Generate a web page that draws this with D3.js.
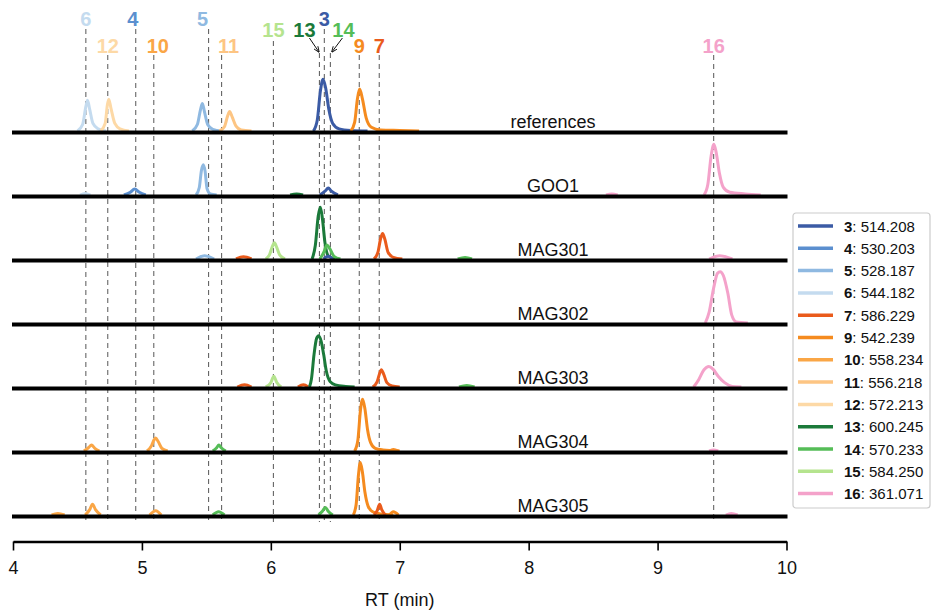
<!DOCTYPE html>
<html>
<head>
<meta charset="utf-8">
<script src="https://cdn.jsdelivr.net/npm/d3@7"></script>
<style>
	body { margin: 0; background: #fff; }
	text { font-family: "Liberation Sans", Arial, sans-serif; }
</style>
</head>
<body>
<svg id="chart" width="933" height="612"></svg>
<script>
// Samples, top to bottom
const samples = ["references", "GOO1", "MAG301", "MAG302", "MAG303", "MAG304", "MAG305"]

// Compounds: id, m/z, marker retention time (min)
const compounds = [3, 4, 5, 6, 7, 9, 10, 11, 12, 13, 14, 15, 16]
const masses = ["514.208", "530.203", "528.187", "544.182", "586.229", "542.239", "558.234",
	"556.218", "572.213", "600.245", "570.233", "584.250", "361.071"]
const markerRt = [6.415, 4.952, 5.517, 4.565, 6.841, 6.686, 5.092, 5.618, 4.735, 6.377, 6.462, 6.020, 9.435]

const xTicks = [4, 5, 6, 7, 8, 9, 10]

// Traces per sample: [compound, [[RT, relative intensity], ...]]
const refTraces = [
	[6, [[4.50, 0], [4.54, 12], [4.565, 45], [4.578, 57], [4.595, 40], [4.62, 14], [4.66, 4], [4.72, 0]]],
	[12, [[4.68, 0], [4.715, 14], [4.732, 48], [4.743, 59], [4.76, 42], [4.79, 14], [4.83, 4], [4.90, 0]]],
	[5, [[5.39, 0], [5.43, 12], [5.455, 40], [5.469, 51], [5.485, 36], [5.51, 12], [5.55, 3], [5.62, 0]]],
	[11, [[5.60, 0], [5.64, 8], [5.665, 28], [5.68, 36], [5.70, 26], [5.73, 9], [5.77, 2], [5.85, 0]]],
	[3, [[6.33, 0], [6.36, 20], [6.385, 75], [6.405, 96], [6.425, 80], [6.45, 40], [6.48, 14], [6.53, 4], [6.62, 1], [6.75, 0]]],
	[9, [[6.62, 0], [6.65, 16], [6.672, 60], [6.689, 78], [6.71, 60], [6.74, 24], [6.78, 7], [6.85, 2], [7.0, 1], [7.15, 0]]],
]
const gooTraces = [
	[6, [[4.52, 0], [4.56, 3], [4.60, 0]]],
	[4, [[4.86, 0], [4.91, 5], [4.944, 11], [4.98, 5], [5.03, 0]]],
	[5, [[5.42, 0], [5.445, 14], [5.462, 46], [5.476, 56], [5.49, 44], [5.505, 12], [5.53, 2], [5.58, 0]]],
	[13, [[6.15, 0], [6.20, 2], [6.25, 0]]],
	[3, [[6.38, 0], [6.42, 7], [6.446, 13], [6.47, 7], [6.52, 0]]],
	[16, [[8.60, 0], [8.645, 2], [8.69, 0]]],
	[16, [[9.36, 0], [9.39, 20], [9.415, 72], [9.437, 94], [9.455, 78], [9.48, 40], [9.51, 14], [9.56, 5], [9.68, 2], [9.8, 0]]],
]
const mag301Traces = [
	[5, [[5.42, 0], [5.486, 6], [5.56, 0]]],
	[7, [[5.73, 0], [5.788, 4], [5.85, 0]]],
	[15, [[5.96, 0], [5.99, 8], [6.01, 22], [6.028, 30], [6.045, 22], [6.07, 7], [6.11, 0]]],
	[13, [[6.32, 0], [6.345, 25], [6.368, 80], [6.384, 96], [6.40, 75], [6.42, 30], [6.445, 6], [6.5, 0]]],
	[3, [[6.41, 0], [6.445, 5], [6.48, 0]]],
	[14, [[6.38, 0], [6.41, 12], [6.436, 26], [6.46, 18], [6.49, 5], [6.54, 0]]],
	[7, [[6.80, 0], [6.83, 12], [6.852, 38], [6.867, 47], [6.885, 36], [6.91, 12], [6.95, 3], [7.02, 0]]],
	[14, [[7.45, 0], [7.507, 3], [7.56, 0]]],
	[16, [[9.40, 0], [9.481, 6], [9.58, 0]]],
]
const mag302Traces = [
	[16, [[9.37, 0], [9.40, 20], [9.435, 65], [9.465, 92], [9.486, 95], [9.51, 88], [9.545, 55], [9.575, 15], [9.61, 2], [9.70, 0]]],
]
const mag303Traces = [
	[7, [[5.74, 0], [5.796, 4], [5.85, 0]]],
	[15, [[5.96, 0], [6.0, 8], [6.023, 20], [6.045, 9], [6.08, 0]]],
	[7, [[6.21, 0], [6.253, 4], [6.29, 0]]],
	[13, [[6.30, 0], [6.315, 15], [6.335, 60], [6.355, 90], [6.371, 95], [6.39, 85], [6.41, 60], [6.43, 30], [6.46, 10], [6.50, 4], [6.58, 1], [6.65, 0]]],
	[7, [[6.79, 0], [6.825, 10], [6.845, 26], [6.857, 32], [6.875, 24], [6.90, 8], [6.94, 2], [7.0, 0]]],
	[14, [[7.46, 0], [7.52, 3], [7.58, 0]]],
	[16, [[9.28, 0], [9.32, 14], [9.36, 32], [9.398, 38], [9.43, 33], [9.47, 20], [9.52, 8], [9.58, 1], [9.65, 0]]],
]
const mag304Traces = [
	[10, [[4.55, 0], [4.585, 6], [4.609, 11], [4.635, 5], [4.67, 0]]],
	[10, [[5.04, 0], [5.075, 10], [5.095, 21], [5.107, 24], [5.125, 18], [5.155, 5], [5.2, 0]]],
	[14, [[5.55, 0], [5.58, 6], [5.597, 11], [5.615, 6], [5.65, 0]]],
	[9, [[6.65, 0], [6.675, 20], [6.695, 75], [6.712, 96], [6.73, 78], [6.75, 40], [6.775, 15], [6.81, 5], [6.87, 2], [7.0, 0]]],
	[9, [[6.92, 0], [6.95, 3], [6.99, 0]]],
	[16, [[9.40, 0], [9.435, 2], [9.47, 0]]],
]
const mag305Traces = [
	[10, [[4.30, 0], [4.348, 3], [4.40, 0]]],
	[10, [[4.56, 0], [4.595, 10], [4.617, 20], [4.64, 10], [4.68, 0]]],
	[10, [[5.06, 0], [5.107, 8], [5.15, 0]]],
	[14, [[5.55, 0], [5.595, 6], [5.64, 0]]],
	[14, [[6.37, 0], [6.40, 7], [6.423, 14], [6.445, 7], [6.48, 0]]],
	[9, [[6.64, 0], [6.662, 20], [6.68, 75], [6.694, 97], [6.71, 80], [6.73, 42], [6.755, 16], [6.79, 6], [6.85, 2], [6.95, 0]]],
	[7, [[6.80, 0], [6.825, 8], [6.844, 20], [6.86, 10], [6.89, 0]]],
	[9, [[6.92, 0], [6.95, 6], [6.99, 0]]],
	[16, [[9.53, 0], [9.572, 3], [9.62, 0]]],
]
const traces = [refTraces, gooTraces, mag301Traces, mag302Traces, mag303Traces, mag304Traces, mag305Traces]

// Styling
const colours = {
	3: "#3b5ba5", 4: "#5b8fcf", 5: "#8fb9e1", 6: "#c4dbef",
	7: "#ea5b1c", 9: "#f58b1f", 10: "#faa646", 11: "#fdc583", 12: "#fdd9a6",
	13: "#1b7a3a", 14: "#55bd57", 15: "#b5e48e", 16: "#f4a2ca",
}
// label row (0 top) and horizontal nudge in px
const labelRow = { 3: 0, 4: 0, 5: 0, 6: 0, 15: 1, 13: 1, 14: 1, 12: 2, 10: 2, 11: 2, 9: 2, 7: 2, 16: 2 }
const labelDx = { 4: -3, 5: -6, 10: 4, 11: 7, 13: -15, 14: 13 }
const rowBaseline = [26, 37, 53]
const lineTop = [29, 41, 55]

const svg = d3.select("#chart")

const x = d3.scaleLinear()
	.domain([4, 10])
	.range([13, 786.5])

const track = d3.scalePoint()
	.domain(samples)
	.range([132.5, 516.5])

const h = d3.scaleLinear()
	.domain([0, 100])
	.range([0, 54])

// Marker lines
const markers = compounds.map((c, i) => ({ id: c, rt: markerRt[i] }))

svg.append("g")
	.attr("class", "markers")
	.selectAll("line")
	.data(markers)
	.join("line")
	.attr("x1", d => x(d.rt))
	.attr("x2", d => x(d.rt))
	.attr("y1", d => (d.id === 13 || d.id === 14) ? 53 : lineTop[labelRow[d.id]])
	.attr("y2", 522)
	.attr("stroke", "#666")
	.attr("stroke-width", 1.1)
	.attr("stroke-dasharray", "5,4")

// Traces
const lineGen = d3.line()
	.x(d => x(d[0]))
	.curve(d3.curveMonotoneX)

samples.forEach((s, i) => {
	let base = track(s)
	let g = svg.append("g").attr("class", "sample")
	g.selectAll("path")
		.data(traces[i])
		.join("path")
		.attr("d", d => lineGen.y(p => base - 1.5 - h(p[1]))(d[1]))
		.attr("fill", "none")
		.attr("stroke", d => colours[d[0]])
		.attr("stroke-width", 3)
		.attr("stroke-linejoin", "round")
	g.append("line")
		.attr("x1", x(4) - 1)
		.attr("x2", x(10) + 1)
		.attr("y1", base)
		.attr("y2", base)
		.attr("stroke", "#000")
		.attr("stroke-width", 4)
	g.append("text")
		.attr("x", 553)
		.attr("y", base - 5)
		.attr("text-anchor", "middle")
		.attr("font-size", 18)
		.attr("fill", "#111")
		.text(s)
})

// Compound labels
svg.append("g")
	.attr("class", "labels")
	.selectAll("text")
	.data(markers)
	.join("text")
	.attr("x", d => x(d.rt) + (labelDx[d.id] || 0))
	.attr("y", d => rowBaseline[labelRow[d.id]])
	.attr("text-anchor", "middle")
	.attr("font-size", 20)
	.attr("font-weight", "bold")
	.attr("fill", d => colours[d.id])
	.text(d => d.id)

// Arrows for 13 and 14
svg.append("defs").append("marker")
	.attr("id", "arrow")
	.attr("viewBox", "0 0 10 10")
	.attr("refX", 9)
	.attr("refY", 5)
	.attr("markerWidth", 6)
	.attr("markerHeight", 6)
	.attr("orient", "auto")
	.append("path")
	.attr("d", "M0,1 L10,5 L0,9")
	.attr("fill", "none")
	.attr("stroke", "#111")
	.attr("stroke-width", 1.5)

let arrows = markers.filter(d => d.id === 13 || d.id === 14)
svg.append("g")
	.selectAll("line")
	.data(arrows)
	.join("line")
	.attr("x1", d => x(d.rt) + (d.id === 13 ? -10 : 12))
	.attr("y1", 38)
	.attr("x2", d => x(d.rt) + (d.id === 13 ? -0.5 : 1.5))
	.attr("y2", 52)
	.attr("stroke", "#111")
	.attr("stroke-width", 1)
	.attr("marker-end", "url(#arrow)")

// X axis
const axis = svg.append("g")
	.attr("transform", "translate(0, 541.5)")
	.call(d3.axisBottom(x)
		.tickValues(xTicks)
		.tickFormat(d3.format("d"))
		.tickSize(9)
		.tickSizeOuter(0)
		.tickPadding(11))
axis.select(".domain").attr("stroke-width", 2.5)
axis.selectAll(".tick line").attr("stroke-width", 1.6)
axis.selectAll(".tick text")
	.attr("font-size", 18)
	.attr("font-family", "\"Liberation Sans\", Arial, sans-serif")
	.attr("fill", "#111")

svg.append("text")
	.attr("x", x(7))
	.attr("y", 606)
	.attr("text-anchor", "middle")
	.attr("font-size", 18)
	.attr("fill", "#111")
	.text("RT (min)")

// Legend
const legend = svg.append("g").attr("transform", "translate(793, 213)")
legend.append("rect")
	.attr("width", 137)
	.attr("height", 295)
	.attr("rx", 3)
	.attr("fill", "#fff")
	.attr("stroke", "#ccc")
	.attr("stroke-width", 1.2)

let items = legend.selectAll("g.item")
	.data(markers)
	.join("g")
	.attr("class", "item")
	.attr("transform", (d, i) => `translate(0, ${13 + i * 22.3})`)
items.append("line")
	.attr("x1", 5)
	.attr("x2", 40)
	.attr("stroke", d => colours[d.id])
	.attr("stroke-width", 3.5)
let label = items.append("text")
	.attr("x", 51)
	.attr("y", 5.5)
	.attr("font-size", 15)
	.attr("fill", "#111")
label.append("tspan")
	.attr("font-weight", "bold")
	.text(d => d.id)
label.append("tspan")
	.text((d, i) => `: ${masses[i]}`)
</script>
</body>
</html>
